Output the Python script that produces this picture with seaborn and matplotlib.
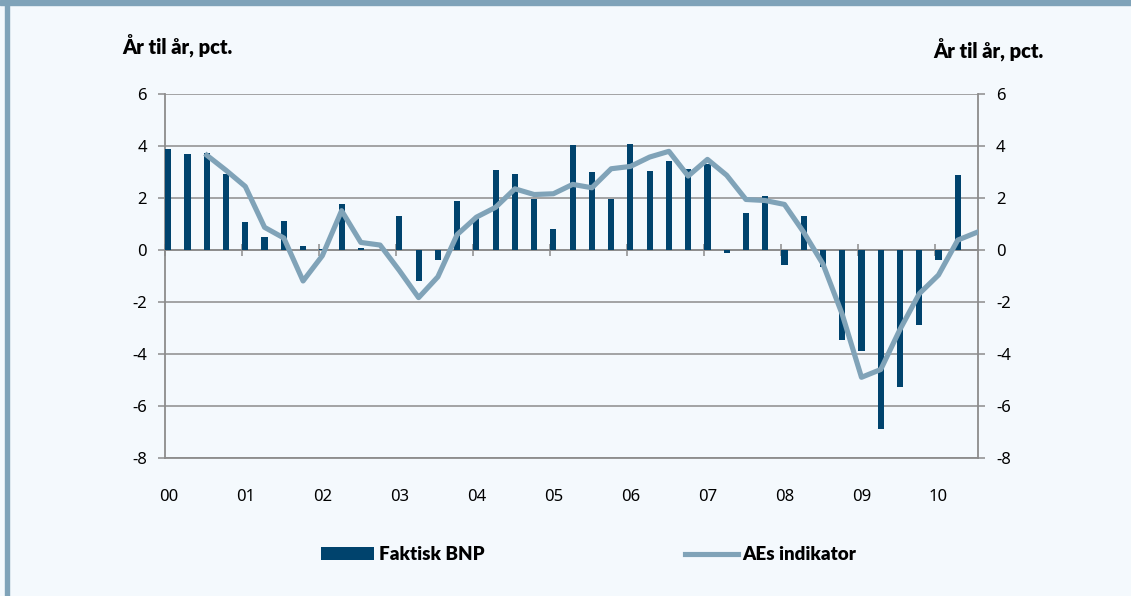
import numpy as np
import pandas as pd
import seaborn as sns
import matplotlib.pyplot as plt
from matplotlib.patches import Rectangle

# Kvartalsdata 2000K1 - 2010K3
years = ['00', '01', '02', '03', '04', '05', '06', '07', '08', '09', '10']
faktisk_bnp = [3.85, 3.67, 3.71, 2.90, 1.08, 0.50, 1.11, 0.13, 0.02, 1.76, 0.08, 0.00,
               1.30, -1.20, -0.40, 1.87, 1.25, 3.07, 2.91, 1.94, 0.80, 4.02, 3.00, 1.94,
               4.07, 3.01, 3.40, 3.11, 3.31, -0.14, 1.43, 2.08, -0.60, 1.31, -0.65, -3.47,
               -3.90, -6.90, -5.26, -2.88, -0.39, 2.86]
aes_indikator = [3.63, 3.05, 2.43, 0.86, 0.45, -1.20, -0.23, 1.50, 0.28, 0.18, -0.80,
                 -1.84, -1.04, 0.58, 1.25, 1.63, 2.34, 2.12, 2.15, 2.51, 2.38, 3.11, 3.20,
                 3.56, 3.78, 2.83, 3.47, 2.86, 1.93, 1.89, 1.74, 0.67, -0.55, -2.48, -4.90,
                 -4.60, -3.06, -1.69, -0.97, 0.37, 0.67]

bar_df = pd.DataFrame({'q': np.arange(len(faktisk_bnp)), 'val': faktisk_bnp})
line_df = pd.DataFrame({'q': np.arange(2, 2 + len(aes_indikator)), 'val': aes_indikator})

bg = '#F4F9FD'
frame = '#7FA3B9'
bar_col = '#00436D'
line_col = '#80A3B8'
grid_col = '#8C8C8C'

plt.rcParams['font.family'] = ['Noto Sans', 'DejaVu Sans']
fig = plt.figure(figsize=(11.31, 5.96), dpi=100, facecolor=bg)
ax = fig.add_axes([0.1459, 0.2315, 0.7188, 0.6116])
ax.set_facecolor(bg)

sns.barplot(data=bar_df, x='q', y='val', native_scale=True, width=0.32,
            color=bar_col, saturation=1, ax=ax, zorder=3, label='Faktisk BNP')
sns.lineplot(data=line_df, x='q', y='val', color=line_col, linewidth=3.7,
             ax=ax, zorder=4, label='AEs indikator')

ax.set_xlim(-0.17, 42.05)
ax.set_ylim(-8, 6)
ax.set_yticks(np.arange(-8, 7, 2))
ax.set_yticklabels([str(v) for v in range(-8, 7, 2)])
ax.grid(axis='y', color=grid_col, linewidth=1.1, zorder=0)
ax.set_axisbelow(True)
ax.set_xlabel('')
ax.set_ylabel('')

# x-akse i nul med årsmarkeringer
ax.spines['bottom'].set_position(('data', 0))
ax.spines['bottom'].set_color(grid_col)
ax.spines['bottom'].set_linewidth(1.3)
ax.spines['bottom'].set_zorder(2)
ax.set_xticks(np.arange(len(years)) * 4 - 0.17)
ax.tick_params(axis='x', direction='inout', length=9, width=1.1, color=grid_col, labelbottom=False)
for s in ['left', 'right']:
    ax.spines[s].set_color(grid_col)
    ax.spines[s].set_linewidth(1.3)
ax.spines['top'].set_visible(False)
ax.tick_params(axis='y', length=5, width=1.1, color=grid_col, labelsize=12, pad=8,
               left=True, right=True, labelright=True)

sec = ax.secondary_xaxis(0.0)
sec.set_xticks(np.arange(len(years)) * 4)
sec.set_xticklabels(years)
sec.tick_params(length=0, labelsize=12, pad=22)
sec.spines['bottom'].set_color(grid_col)
sec.spines['bottom'].set_linewidth(1.3)

bold_fam = ['Lato', 'DejaVu Sans']
fig.text(0.1080, 0.923, 'År til år, pct.', ha='left', va='center',
         family=bold_fam, weight='heavy', fontsize=14.5)
fig.text(0.8255, 0.915, 'År til år, pct.', ha='left', va='center',
         family=bold_fam, weight='heavy', fontsize=14.5)

handles, labels = ax.get_legend_handles_labels()
order = [labels.index('Faktisk BNP'), labels.index('AEs indikator')]
leg = ax.legend([handles[i] for i in order], [labels[i] for i in order],
                loc='center', bbox_to_anchor=(0.5215, -0.266), ncol=2,
                frameon=False, columnspacing=10.7, handlelength=2.8, handletextpad=0.27,
                prop=dict(family=bold_fam, weight='heavy', size=13.5))

# ramme
fig.patches.append(Rectangle((0, 0.992), 1, 0.008, transform=fig.transFigure, color=frame, zorder=0))
fig.patches.append(Rectangle((0.0044, 0), 0.0036, 1, transform=fig.transFigure, color=frame, zorder=0))

fig.savefig('out.png', dpi=100, facecolor=bg)
